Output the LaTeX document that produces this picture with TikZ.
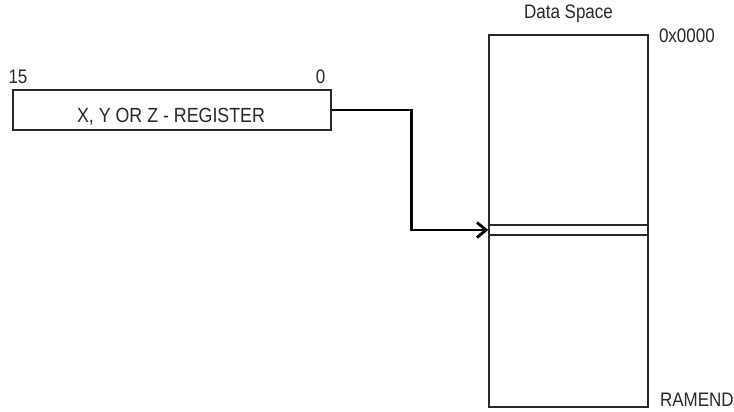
\documentclass[tikz,border=0pt]{standalone}
\usepackage{fontspec}
\setmainfont{Liberation Sans}
\usetikzlibrary{arrows.meta,positioning}
\definecolor{ink}{RGB}{40,40,40}
\newcommand{\tall}[1]{\scalebox{1}[1.15]{#1}}
\tikzset{
  regbox/.style={draw=ink,line width=1.6pt,minimum width=318pt,minimum height=40pt,inner sep=0pt},
  mem/.style={draw=ink,line width=1.6pt,minimum width=159pt,inner sep=0pt},
  txt/.style={text=ink,font=\fontsize{17}{19}\selectfont,inner sep=0pt},
  ptr/.style={-{Straight Barb[length=9pt,width=15pt]},line width=2.8pt,black},
}

\begin{document}
\begin{tikzpicture}[x=1pt,y=-1pt]
\useasboundingbox (0,0) rectangle (734,412);
% register
\node[regbox] (reg) at (172,110) {};
\node[txt,font=\fontsize{17.8}{19}\selectfont] (regname) at (171,116.5) {\tall{X, Y OR Z - REGISTER}};
\node[txt] (msb) at (18,77) {\tall{15}};
\node[txt] (lsb) at (320.5,77) {\tall{0}};

% data space
\node[mem,minimum height=372pt] (ds) at (568.5,221) {};
\node[mem,minimum height=10pt] (cell) at (568.5,230) {};
\node[txt,above=11pt of ds] (dstitle) {\tall{Data Space}};
\node[txt,anchor=west] (top) at ([xshift=10pt,yshift=-2pt]ds.north east) {\tall{0x0000}};
\node[txt,anchor=west] (bot) at ([xshift=11pt,yshift=8pt]ds.south east) {\tall{RAMEND}};

% pointer
\draw[ptr] (reg.east) -- ++(80,0) |- (cell.west);
\end{tikzpicture}
\end{document}
